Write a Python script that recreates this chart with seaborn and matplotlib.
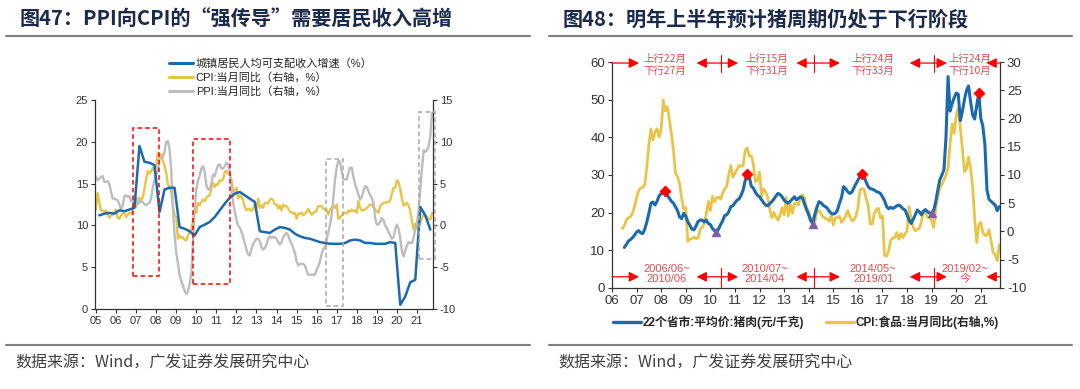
# plot.py
# Dos gráficos: PPI/CPI vs ingreso urbano (izq.) y ciclo del precio del cerdo vs CPI alimentos (der.)

import numpy as np
import pandas as pd
import matplotlib.pyplot as plt
import seaborn as sns
from matplotlib.lines import Line2D
from matplotlib.patches import Rectangle

# ---------------- datos: panel izquierdo ----------------
# ingreso disponible per cápita urbano, crecimiento acumulado trimestral (%), 2005Q1 - 2021Q3
income_growth = [
    11.2, 11.4, 11.5, 11.4,
    11.8, 11.7, 11.9, 12.1,
    19.5, 17.6, 17.5, 17.2,
    11.6, 14.3, 14.5, 14.5,
    9.8, 9.6, 9.3, 8.8,
    9.8, 10.1, 10.4, 11.0,
    11.8, 12.6, 13.3, 13.8,
    14.0, 13.6, 13.2, 12.8,
    9.3, 9.2, 9.1, 9.5,
    9.8, 9.7, 9.5, 9.0,
    8.7, 8.5, 8.4, 8.2,
    8.0, 7.9, 7.8, 7.8,
    7.8, 7.9, 8.2, 8.3,
    8.2, 7.9, 7.9, 7.8,
    7.8, 7.8, 8.0, 7.9,
    0.5, 1.5, 3.2, 3.5,
    12.2, 11.2, 9.5,
]

# CPI y PPI mensual (% a/a), 2005-01 - 2021-10
cpi = [
    1.9, 3.9, 2.7, 1.8, 1.8, 1.6, 1.8, 1.3, 0.9, 1.2, 1.3, 1.6,
    1.9, 0.9, 0.8, 1.2, 1.4, 1.5, 1.0, 1.3, 1.5, 1.4, 1.9, 2.8,
    2.2, 2.7, 3.3, 3.0, 3.4, 4.4, 5.6, 6.5, 6.2, 6.5, 6.9, 6.5,
    7.1, 8.7, 8.3, 8.5, 7.7, 7.1, 6.3, 4.9, 4.6, 4.0, 2.4, 1.2,
    1.0, -1.6, -1.2, -1.5, -1.4, -1.7, -1.8, -1.2, -0.8, -0.5, 0.6, 1.9,
    1.5, 2.7, 2.4, 2.8, 3.1, 2.9, 3.3, 3.5, 3.6, 4.4, 5.1, 4.6,
    4.9, 4.9, 5.4, 5.3, 5.5, 6.4, 6.5, 6.2, 6.1, 5.5, 4.2, 4.1,
    4.5, 3.2, 3.6, 3.4, 3.0, 2.2, 1.8, 2.0, 1.9, 1.7, 2.0, 2.5,
    2.0, 3.2, 2.1, 2.4, 2.1, 2.7, 2.7, 2.6, 3.1, 3.2, 3.0, 2.5,
    2.5, 2.0, 2.4, 1.8, 2.5, 2.3, 2.3, 2.0, 1.6, 1.6, 1.4, 1.5,
    0.8, 1.4, 1.4, 1.5, 1.2, 1.4, 1.6, 2.0, 1.6, 1.3, 1.5, 1.6,
    1.8, 2.3, 2.3, 2.3, 2.0, 1.9, 1.8, 1.3, 1.9, 2.1, 2.3, 2.1,
    2.5, 0.8, 0.9, 1.2, 1.5, 1.5, 1.4, 1.8, 1.6, 1.9, 1.7, 1.8,
    1.5, 2.9, 2.1, 1.8, 1.8, 1.9, 2.1, 2.3, 2.5, 2.5, 2.2, 1.9,
    1.7, 1.5, 2.3, 2.5, 2.7, 2.7, 2.8, 2.8, 3.0, 3.8, 4.5, 4.5,
    5.4, 5.2, 4.3, 3.3, 2.4, 2.5, 2.7, 2.4, 1.7, 0.5, -0.5, 0.2,
    -0.3, -0.2, 0.4, 0.9, 1.3, 1.1, 1.0, 0.8, 0.7, 1.5,
]
ppi = [
    5.8, 5.4, 5.6, 5.8, 5.9, 5.2, 5.2, 5.3, 4.9, 4.0, 3.2, 3.2,
    3.1, 3.0, 2.5, 1.9, 2.4, 3.5, 3.6, 3.4, 3.5, 2.9, 2.8, 3.1,
    3.3, 2.6, 2.7, 2.9, 2.8, 2.5, 2.4, 2.6, 2.7, 3.2, 4.6, 5.4,
    6.1, 6.6, 8.0, 8.1, 8.2, 8.8, 10.0, 10.1, 9.1, 6.6, 2.0, -1.1,
    -3.3, -4.5, -6.0, -6.6, -7.2, -7.8, -8.2, -7.9, -7.0, -5.8, -2.1, 1.7,
    4.3, 5.4, 5.9, 6.8, 7.1, 6.4, 4.8, 4.3, 4.3, 5.0, 6.1, 5.9,
    6.6, 7.2, 7.3, 6.8, 6.8, 7.1, 7.5, 7.3, 6.5, 5.0, 2.7, 1.7,
    0.7, 0.0, -0.3, -0.7, -1.4, -2.1, -2.9, -3.5, -3.6, -2.8, -2.2, -1.9,
    -1.6, -1.6, -1.9, -2.6, -2.9, -2.7, -2.3, -1.6, -1.3, -1.5, -1.4, -1.4,
    -1.6, -2.0, -2.3, -2.0, -1.4, -1.1, -0.9, -1.2, -1.8, -2.2, -2.7, -3.3,
    -4.3, -4.8, -4.6, -4.6, -4.6, -4.8, -5.4, -5.9, -5.9, -5.9, -5.9, -5.9,
    -5.3, -4.9, -4.3, -3.4, -2.8, -2.6, -1.7, -0.8, 0.1, 1.2, 3.3, 5.5,
    6.9, 7.8, 7.6, 6.4, 5.5, 5.5, 5.5, 6.3, 6.9, 6.9, 5.8, 4.9,
    4.3, 3.7, 3.1, 3.4, 4.1, 4.7, 4.6, 4.1, 3.6, 3.3, 2.7, 0.9,
    0.1, 0.1, 0.4, 0.9, 0.6, 0.0, -0.3, -0.8, -1.2, -1.6, -1.4, -0.5,
    0.1, -0.4, -1.5, -3.1, -3.7, -3.0, -2.4, -2.0, -2.1, -2.1, -1.5, -0.4,
    0.3, 1.7, 4.4, 6.8, 9.0, 8.8, 9.0, 9.5, 10.7, 13.5,
]

# ---------------- datos: panel derecho ----------------
# precio medio del cerdo en 22 provincias (yuan/kg), 2006-07 - 2021-10
pork_price = [
    10.7, 11.5, 12.4, 12.8, 13.3, 14.0,
    14.8, 15.2, 14.6, 14.4, 15.6, 17.5, 19.8, 22.5, 22.8, 22.0, 23.0, 24.5,
    25.0, 25.4, 25.8, 24.6, 23.8, 23.0, 22.5, 21.5, 20.5, 18.8, 18.4, 19.8,
    19.0, 17.6, 16.6, 15.6, 15.4, 16.4, 17.6, 18.0, 18.0, 17.5, 18.0, 17.1,
    16.8, 15.8, 15.2, 14.8, 15.6, 16.8, 17.8, 19.2, 19.4, 20.2, 21.6, 21.8,
    22.6, 23.3, 23.6, 24.6, 26.0, 28.5, 30.2, 29.4, 27.0, 26.5, 25.4, 24.6,
    24.2, 23.4, 22.6, 22.0, 21.8, 22.4, 22.9, 23.6, 24.4, 25.1, 24.8, 24.2,
    23.3, 22.8, 22.5, 23.0, 23.6, 24.2, 23.4, 23.8, 24.2, 23.8, 22.2, 20.7,
    19.4, 17.8, 17.0, 19.6, 21.4, 22.9, 22.6, 22.0, 21.6, 21.2, 20.4, 19.8,
    19.6, 19.8, 20.6, 22.5, 24.0, 26.9, 26.4, 25.6, 25.1, 25.4, 26.5, 27.6,
    28.6, 29.6, 30.2, 29.6, 28.2, 26.9, 26.4, 26.2, 26.0, 25.6, 25.4, 25.1,
    24.2, 23.2, 21.6, 21.0, 21.4, 21.1, 21.4, 21.8, 22.0, 21.6, 21.0, 20.7,
    19.4, 18.0, 17.1, 18.2, 19.4, 20.7, 20.2, 19.4, 20.4, 20.8, 20.2, 19.9,
    19.8, 20.5, 22.9, 26.0, 28.7, 30.0, 31.4, 40.0, 56.2, 47.0, 49.0, 50.6,
    51.8, 51.5, 44.5, 47.0, 50.0, 52.5, 53.7, 49.5, 46.0, 44.9, 48.5, 51.8,
    45.0, 43.0, 38.0, 26.0, 23.5, 23.0, 22.5, 22.0, 20.5, 21.6,
]
# CPI alimentos (% a/a), 2006-06 - 2021-10
cpi_food = [
    0.5, 1.0, 2.0, 2.4, 2.6, 3.2, 4.4,
    6.0, 7.2, 7.7, 7.8, 8.3, 11.4, 15.4, 18.2, 16.2, 17.6, 18.2, 16.7,
    18.2, 23.3, 21.4, 22.1, 19.9, 17.3, 14.4, 10.3, 9.7, 8.5, 5.9, 4.0,
    4.2, -1.8, -1.4, -1.3, -1.0, -1.3, -1.2, 0.3, 0.7, 1.3, 3.1, 5.3,
    3.7, 6.2, 5.2, 5.9, 6.1, 5.7, 6.8, 7.5, 8.0, 10.1, 11.7, 9.6,
    10.3, 11.0, 11.7, 11.5, 11.7, 14.4, 14.8, 13.4, 13.4, 11.9, 8.8, 9.1,
    10.5, 6.2, 7.5, 7.0, 6.0, 3.9, 2.4, 3.4, 2.5, 2.0, 2.8, 4.2,
    2.9, 6.0, 2.7, 4.7, 3.2, 4.9, 5.0, 4.7, 6.1, 6.5, 5.9, 4.1,
    3.7, 1.9, 2.4, 1.6, 3.5, 3.7, 3.1, 2.6, 2.3, 2.2, 1.8, 2.9,
    1.1, 2.4, 2.4, 2.7, 1.6, 2.1, 2.7, 3.7, 2.7, 1.9, 2.0, 2.7,
    4.1, 7.3, 7.6, 7.4, 5.9, 4.6, 1.3, 1.3, 3.2, 3.8, 4.1, 2.4,
    2.7, -4.3, -4.4, -3.5, -1.6, -1.2, -1.1, -0.2, -1.4, -0.4, -1.1, -0.4,
    0.0, 4.4, 2.1, 0.7, 0.1, 0.3, 0.5, 1.7, 3.6, 3.3, 2.5, 2.5,
    1.9, 0.7, 4.1, 6.1, 7.7, 8.3, 9.1, 10.0, 11.2, 15.5, 19.1, 17.4,
    20.6, 21.9, 18.3, 14.8, 10.6, 11.1, 13.2, 11.2, 7.9, 2.2, -2.0, 1.2,
    1.6, -0.2, -0.7, -0.7, 0.3, -1.7, -3.7, -4.1, -5.2, -2.4,
]

# picos (rombos rojos) y valles (triángulos) del ciclo
peak_months = ["2008-03", "2011-07", "2016-03", "2020-12"]
trough_months = ["2010-04", "2014-03", "2019-01"]

# textos de las fases del ciclo
phase_top = ["上行22月\n下行27月", "上行15月\n下行31月", "上行24月\n下行33月", "上行24月\n下行10月"]
phase_bottom = ["2006/06~\n2010/06", "2010/07~\n2014/04", "2014/05~\n2019/01", "2019/02~\n今"]

# textos
title_left = "图47：PPI向CPI的“强传导”需要居民收入高增"
title_right = "图48：明年上半年预计猪周期仍处于下行阶段"
source = "数据来源：Wind，广发证券发展研究中心"
legend_left = ["城镇居民人均可支配收入增速（%）", "CPI:当月同比（右轴，%）", "PPI:当月同比（右轴，%）"]
legend_right = ["22个省市:平均价:猪肉(元/千克)", "CPI:食品:当月同比(右轴,%)"]

BLUE = "#1a6aad"
YELLOW = "#e8c449"
GRAY = "#bdbdbd"
RED = "#ff0000"
RED_TXT = "#e8474d"
NAVY = "#1b2a4a"
AXC = "#333333"


def to_year(dates):
    """Convierte fechas a años decimales para el eje x."""
    d = pd.DatetimeIndex(dates)
    return d.year + (d.month - 1) / 12 + (d.day - 1) / 365


def style_axis(ax, size):
    ax.tick_params(direction="out", length=3, width=0.8, colors=AXC, labelsize=size, pad=2)
    for s in ax.spines.values():
        s.set_color(AXC)
        s.set_linewidth(0.9)
    ax.spines["top"].set_visible(False)


sns.set_style("ticks")
plt.rcParams["font.family"] = ["Liberation Sans", "Noto Sans CJK SC", "DejaVu Sans"]
plt.rcParams["axes.unicode_minus"] = False

fig = plt.figure(figsize=(10.8, 3.89), dpi=100)
W, H = 1080, 389

# ---------------- panel izquierdo ----------------
x_q = to_year(pd.date_range("2005-03-01", periods=len(income_growth), freq="3MS"))
x_m = to_year(pd.date_range("2005-01-01", periods=len(cpi), freq="MS"))

ax = fig.add_axes([95 / W, 1 - 309 / H, 338 / W, 209 / H])
ax2 = ax.twinx()
sns.lineplot(x=x_m, y=cpi, ax=ax2, color=YELLOW, linewidth=1.7)
sns.lineplot(x=x_m, y=ppi, ax=ax2, color=GRAY, linewidth=1.7)
sns.lineplot(x=x_q, y=income_growth, ax=ax, color=BLUE, linewidth=1.8)
ax.set_zorder(ax2.get_zorder() + 1)
ax.patch.set_visible(False)

ax.set_xlim(2004.95, 2021.8)
ax.set_ylim(0, 25)
ax2.set_ylim(-10, 15)
ax.set_yticks(range(0, 26, 5))
ax2.set_yticks(range(-10, 16, 5))
years_l = list(range(2005, 2022))
ax.set_xticks(years_l)
ax.set_xticklabels([f"{y % 100:02d}" for y in years_l])
ax.set_xlabel("")
ax.set_ylabel("")
ax2.set_ylabel("")
style_axis(ax, 8)
style_axis(ax2, 8)
ax.spines["right"].set_visible(False)
ax2.spines["left"].set_visible(False)
ax2.spines["bottom"].set_visible(False)

# recuadros punteados
for (x0, y0, w, h, c) in [(2006.82, 4.0, 1.33, 17.6, RED), (2009.84, 3.0, 1.82, 17.3, RED),
                          (2016.49, 0.4, 0.83, 17.5, "#a8a8a8"), (2021.12, 6.0, 0.78, 17.6, "#a8a8a8")]:
    ax.add_patch(Rectangle((x0, y0), w, h, fill=False, edgecolor=c, linestyle=(0, (3, 2)),
                           linewidth=1.1, clip_on=False, zorder=5))

handles_l = [Line2D([], [], color=c, lw=2.2) for c in (BLUE, YELLOW, GRAY)]
fig.legend(handles_l, legend_left, loc="upper left", bbox_to_anchor=(163 / W, 1 - 53 / H),
           frameon=False, fontsize=8, handlelength=2.2, handletextpad=0.25,
           labelspacing=0.28, borderpad=0)

# ---------------- panel derecho ----------------
x_pork = to_year(pd.date_range("2006-07-01", periods=len(pork_price), freq="MS"))
x_food = to_year(pd.date_range("2006-06-01", periods=len(cpi_food), freq="MS"))

axr = fig.add_axes([612 / W, 1 - 287.7 / H, 388 / W, 225.4 / H])
axr2 = axr.twinx()
sns.lineplot(x=x_food, y=cpi_food, ax=axr2, color=YELLOW, linewidth=2.0)
sns.lineplot(x=x_pork, y=pork_price, ax=axr, color=BLUE, linewidth=2.2)
axr.set_zorder(axr2.get_zorder() + 1)
axr.patch.set_visible(False)

pork_s = pd.Series(pork_price, index=pd.date_range("2006-07-01", periods=len(pork_price), freq="MS"))
pk = pd.to_datetime(peak_months)
tr = pd.to_datetime(trough_months)
sns.scatterplot(x=to_year(pk), y=pork_s[pk].values, ax=axr, marker="D", color=RED, s=32,
                edgecolor=RED, zorder=6)
sns.scatterplot(x=to_year(tr), y=pork_s[tr].values, ax=axr, marker="^", color="#7b5ea7", s=40,
                edgecolor="#7b5ea7", zorder=6)

axr.set_xlim(2006.0, 2021.78)
axr.set_ylim(0, 60)
axr2.set_ylim(-10, 30)
axr.set_yticks(range(0, 61, 10))
axr2.set_yticks(range(-10, 31, 5))
years_r = list(range(2006, 2022))
axr.set_xticks(years_r)
axr.set_xticklabels([f"{y % 100:02d}" for y in years_r])
axr.set_xlabel("")
axr.set_ylabel("")
axr2.set_ylabel("")
style_axis(axr, 9.5)
style_axis(axr2, 9.5)
axr.spines["right"].set_visible(False)
axr2.spines["left"].set_visible(False)
axr2.spines["bottom"].set_visible(False)

# flechas de las fases (arriba y abajo)
arrow_kw = dict(arrowstyle="-|>,head_length=0.6,head_width=0.3", color=RED, lw=0.9,
                shrinkA=0, shrinkB=0)
separators = [2010.42, 2014.22, 2019.08]
for y_arr, sep_span in [(59.8, (57.5, 61.9)), (2.9, (0.0, 5.2))]:
    segs = [(2006.0, 2007.1), (2010.42, 2009.44), (2010.42, 2011.13), (2014.22, 2013.5),
            (2014.22, 2015.27), (2019.08, 2018.11), (2019.08, 2019.62), (2021.78, 2021.23)]
    for tail, head in segs:
        axr.annotate("", xy=(head, y_arr), xytext=(tail, y_arr), arrowprops=arrow_kw,
                     annotation_clip=False)
    for s in separators:
        axr.plot([s, s], sep_span, color=RED, lw=0.8, clip_on=False)

for x_t, t in zip([2008.15, 2012.29, 2016.62, 2020.55], phase_top):
    axr.text(x_t, 59.3, t, ha="center", va="center", color=RED_TXT, fontsize=7.5,
             linespacing=1.15, family=["Noto Sans CJK SC"], clip_on=False)
for x_t, t in zip([2008.22, 2012.22, 2016.62, 2020.35], phase_bottom):
    axr.text(x_t, 3.6, t, ha="center", va="center", color=RED_TXT, fontsize=8,
             linespacing=1.0, clip_on=False)

handles_r = [Line2D([], [], color=c, lw=2.4) for c in (BLUE, YELLOW)]
fig.legend(handles_r, legend_right, loc="center", bbox_to_anchor=(806 / W, 1 - 322 / H), ncol=2,
           frameon=False, handlelength=2.4, handletextpad=0.15, columnspacing=1.8,
           borderpad=0, prop={"size": 8.5, "weight": "bold",
                              "family": ["Liberation Sans", "Noto Sans CJK SC"]})

# ---------------- títulos, líneas y fuente ----------------
for x0, x1, t, xt in [(6, 530, title_left, 20), (549, 1072, title_right, 563)]:
    fig.text(xt / W, 1 - 19 / H, t, ha="left", va="center", fontsize=14.5, weight="bold",
             color=NAVY, family=["Noto Sans CJK SC"])
    fig.add_artist(Line2D([x0 / W, x1 / W], [1 - 36 / H] * 2, color="#7f7f7f", lw=1.5))
    fig.add_artist(Line2D([x0 / W, x1 / W], [1 - 345 / H] * 2, color="#7f7f7f", lw=1.5))
    fig.text((xt - 5) / W, 1 - 363 / H, source, ha="left", va="center", fontsize=11.5,
             color="#404040", family=["Noto Sans CJK SC"])

fig.savefig("out.png", dpi=100)
